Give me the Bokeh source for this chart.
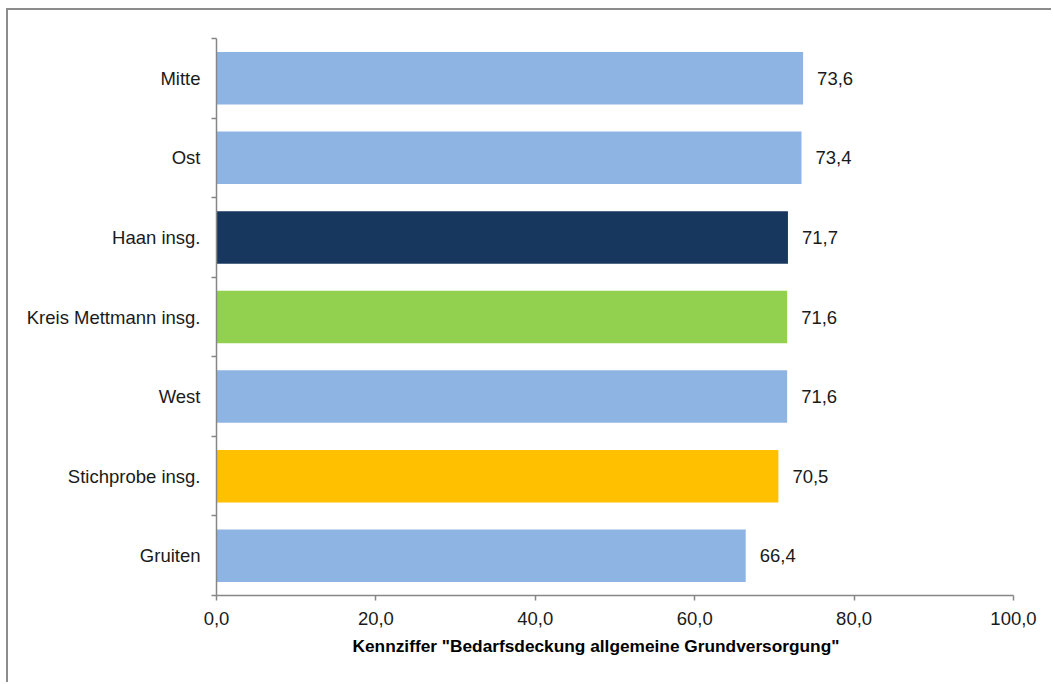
from bokeh.plotting import figure
from bokeh.models import (ColumnDataSource, FixedTicker, CustomJSTickFormatter,
                          Range1d, Title)
from bokeh.core.properties import value
from bokeh.embed import file_html
from bokeh.resources import INLINE

# Districts, listed top to bottom
categories = ["Mitte", "Ost", "Haan insg.", "Kreis Mettmann insg.",
              "West", "Stichprobe insg.", "Gruiten"]
values = [73.6, 73.4, 71.7, 71.6, 71.6, 70.5, 66.4]
colors = ["#8EB4E3", "#8EB4E3", "#17375E", "#92D050",
          "#8EB4E3", "#FFC000", "#8EB4E3"]
x_ticks = [0, 20, 40, 60, 80, 100]
x_title = 'Kennziffer "Bedarfsdeckung allgemeine Grundversorgung"'

FONT = "Liberation Sans"
n = len(categories)
centers = [n - i - 0.5 for i in range(n)]
labels = [f"{v:.1f}".replace(".", ",") for v in values]

src = ColumnDataSource(dict(y=centers, v=values, c=colors, t=labels))

# the chart sits in a frame drawn by the element's left/top border
p = figure(width=1045, height=674, output_backend="svg", toolbar_location=None,
           x_range=Range1d(0, 100), y_range=Range1d(0, n),
           min_border_left=208, min_border_right=40,
           min_border_top=28, min_border_bottom=89)
p.styles = {"border-left": "2px solid #8c8c8c", "border-top": "2px solid #8c8c8c",
            "margin-left": "6px", "margin-top": "8px"}
p.outline_line_color = None
p.grid.visible = False
p.background_fill_color = "white"
p.border_fill_color = "white"

p.hbar(y="y", left=0, right="v", height=0.66, fill_color="c",
       line_color=None, source=src)

p.text(x="v", y="y", text="t", source=src, x_offset=14,
       text_align="left", text_baseline="middle",
       text_font=value(FONT), text_font_size="18.5px", text_color="#1a1a1a")

# x axis: numeric ticks shown with decimal comma
xa = p.xaxis[0]
xa.ticker = FixedTicker(ticks=x_ticks, minor_ticks=[])
xa.formatter = CustomJSTickFormatter(code="return tick.toFixed(1).replace('.', ',');")
xa.major_label_text_font = FONT
xa.major_label_text_font_size = "18.5px"
xa.major_label_text_color = "#1a1a1a"
xa.major_label_standoff = 11
xa.major_tick_out = 5
xa.major_tick_in = 0
xa.major_tick_line_color = "#868686"
xa.major_tick_line_width = 1.5
xa.axis_line_color = "#868686"
xa.axis_line_width = 1.5

# axis title under the tick labels, a little left of the axis centre
p.add_layout(Title(text=x_title, align="left", offset=136, standoff=12,
                   text_font=FONT, text_font_style="bold",
                   text_font_size="17.3px", text_color="black"), "below")

# y axis: names at band centres, tick marks on band boundaries
ya = p.yaxis[0]
ya.ticker = FixedTicker(ticks=centers, minor_ticks=list(range(n + 1)))
ya.major_label_overrides = {c: name for c, name in zip(centers, categories)}
ya.major_tick_out = 0
ya.major_tick_in = 0
ya.minor_tick_out = 5
ya.minor_tick_in = 0
ya.minor_tick_line_color = "#868686"
ya.minor_tick_line_width = 1.5
ya.axis_line_color = "#868686"
ya.axis_line_width = 1.5
ya.major_label_text_font = FONT
ya.major_label_text_font_size = "18.5px"
ya.major_label_text_color = "#1a1a1a"
ya.major_label_standoff = 11

open("out.html", "w").write(file_html(p, INLINE))
